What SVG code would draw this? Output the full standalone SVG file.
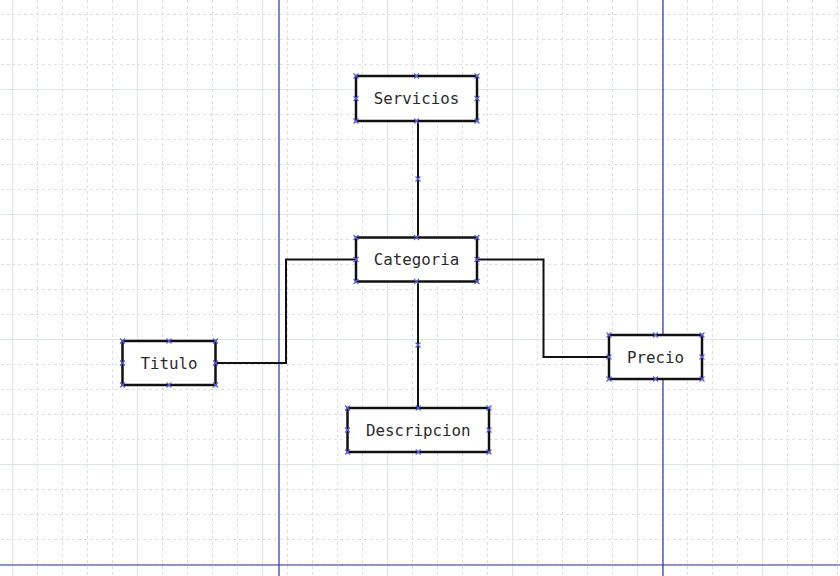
<svg xmlns="http://www.w3.org/2000/svg" xmlns:xlink="http://www.w3.org/1999/xlink" width="840" height="576" viewBox="0 0 840 576">
  <style>
    .minor { stroke: #d9dfe3; stroke-width: 1; stroke-dasharray: 3 3; fill: none; }
    .major { stroke: #dde5e8; stroke-width: 1.2; fill: none; }
    .page { stroke: #2f2fa8; stroke-width: 1.2; fill: none; }
    .box { fill: #ffffff; stroke: #111111; stroke-width: 2.5; }
    .lbl { font-family: "DejaVu Sans Mono", "Liberation Mono", monospace; font-size: 15.8px; fill: #2b2b2b; text-anchor: middle; }
    .conn { stroke: #111111; stroke-width: 2; fill: none; }
    .pt { stroke: #5c5ce0; stroke-width: 1.1; fill: none; }
  </style>
  <defs>
    <pattern id="grid" width="125" height="125" patternUnits="userSpaceOnUse" patternTransform="translate(12 89)">
      <line class="minor" x1="25.5" y1="0" x2="25.5" y2="125"/>
      <line class="minor" x1="50.5" y1="0" x2="50.5" y2="125"/>
      <line class="minor" x1="75.5" y1="0" x2="75.5" y2="125"/>
      <line class="minor" x1="100.5" y1="0" x2="100.5" y2="125"/>
      <line class="minor" x1="0" y1="25.5" x2="125" y2="25.5"/>
      <line class="minor" x1="0" y1="50.5" x2="125" y2="50.5"/>
      <line class="minor" x1="0" y1="75.5" x2="125" y2="75.5"/>
      <line class="minor" x1="0" y1="100.5" x2="125" y2="100.5"/>
      <line class="major" x1="0.5" y1="0" x2="0.5" y2="125"/>
      <line class="major" x1="0" y1="0.5" x2="125" y2="0.5"/>
    </pattern>
    <path id="x" class="pt" d="M-2.5 -2.5 L2.5 2.5 M-2.5 2.5 L2.5 -2.5"/>
  </defs>

  <rect width="840" height="576" fill="#ffffff"/>
  <rect width="840" height="576" fill="url(#grid)"/>

  <g id="page-borders">
    <line class="page" x1="279" y1="0" x2="279" y2="576"/>
    <line class="page" x1="663" y1="0" x2="663" y2="576"/>
    <line class="page" x1="0" y1="565" x2="840" y2="565"/>
  </g>

  <g id="connectors">
    <path class="conn" d="M418 121 L418 237.5"/>
    <path class="conn" d="M418 281.5 L418 408"/>
    <path class="conn" d="M215.5 363 L286 363 L286 259.5 L356 259.5"/>
    <path class="conn" d="M477 259.5 L543.5 259.5 L543.5 357 L609 357"/>
    <use xlink:href="#x" x="418" y="179"/>
    <use xlink:href="#x" x="418" y="345"/>
  </g>

  <g id="node-servicios">
    <rect class="box" x="356" y="76" width="121" height="45"/>
    <text class="lbl" x="416.5" y="104">Servicios</text>
    <use xlink:href="#x" x="356" y="76"/><use xlink:href="#x" x="416.5" y="76"/><use xlink:href="#x" x="477" y="76"/>
    <use xlink:href="#x" x="356" y="98.5"/><use xlink:href="#x" x="477" y="98.5"/>
    <use xlink:href="#x" x="356" y="121"/><use xlink:href="#x" x="416.5" y="121"/><use xlink:href="#x" x="477" y="121"/>
  </g>

  <g id="node-categoria">
    <rect class="box" x="356" y="237.5" width="121" height="44"/>
    <text class="lbl" x="416.5" y="265">Categoria</text>
    <use xlink:href="#x" x="356" y="237.5"/><use xlink:href="#x" x="416.5" y="237.5"/><use xlink:href="#x" x="477" y="237.5"/>
    <use xlink:href="#x" x="356" y="259.5"/><use xlink:href="#x" x="477" y="259.5"/>
    <use xlink:href="#x" x="356" y="281.5"/><use xlink:href="#x" x="416.5" y="281.5"/><use xlink:href="#x" x="477" y="281.5"/>
  </g>

  <g id="node-titulo">
    <rect class="box" x="122.5" y="341" width="93" height="44"/>
    <text class="lbl" x="169" y="368.5">Titulo</text>
    <use xlink:href="#x" x="122.5" y="341"/><use xlink:href="#x" x="169" y="341"/><use xlink:href="#x" x="215.5" y="341"/>
    <use xlink:href="#x" x="122.5" y="363"/><use xlink:href="#x" x="215.5" y="363"/>
    <use xlink:href="#x" x="122.5" y="385"/><use xlink:href="#x" x="169" y="385"/><use xlink:href="#x" x="215.5" y="385"/>
  </g>

  <g id="node-precio">
    <rect class="box" x="609" y="335" width="93" height="44"/>
    <text class="lbl" x="655.5" y="362.5">Precio</text>
    <use xlink:href="#x" x="609" y="335"/><use xlink:href="#x" x="655.5" y="335"/><use xlink:href="#x" x="702" y="335"/>
    <use xlink:href="#x" x="609" y="357"/><use xlink:href="#x" x="702" y="357"/>
    <use xlink:href="#x" x="609" y="379"/><use xlink:href="#x" x="655.5" y="379"/><use xlink:href="#x" x="702" y="379"/>
  </g>

  <g id="node-descripcion">
    <rect class="box" x="347.5" y="408" width="141.5" height="44"/>
    <text class="lbl" x="418.25" y="435.5">Descripcion</text>
    <use xlink:href="#x" x="347.5" y="408"/><use xlink:href="#x" x="418.25" y="408"/><use xlink:href="#x" x="489" y="408"/>
    <use xlink:href="#x" x="347.5" y="430"/><use xlink:href="#x" x="489" y="430"/>
    <use xlink:href="#x" x="347.5" y="452"/><use xlink:href="#x" x="418.25" y="452"/><use xlink:href="#x" x="489" y="452"/>
  </g>
</svg>
